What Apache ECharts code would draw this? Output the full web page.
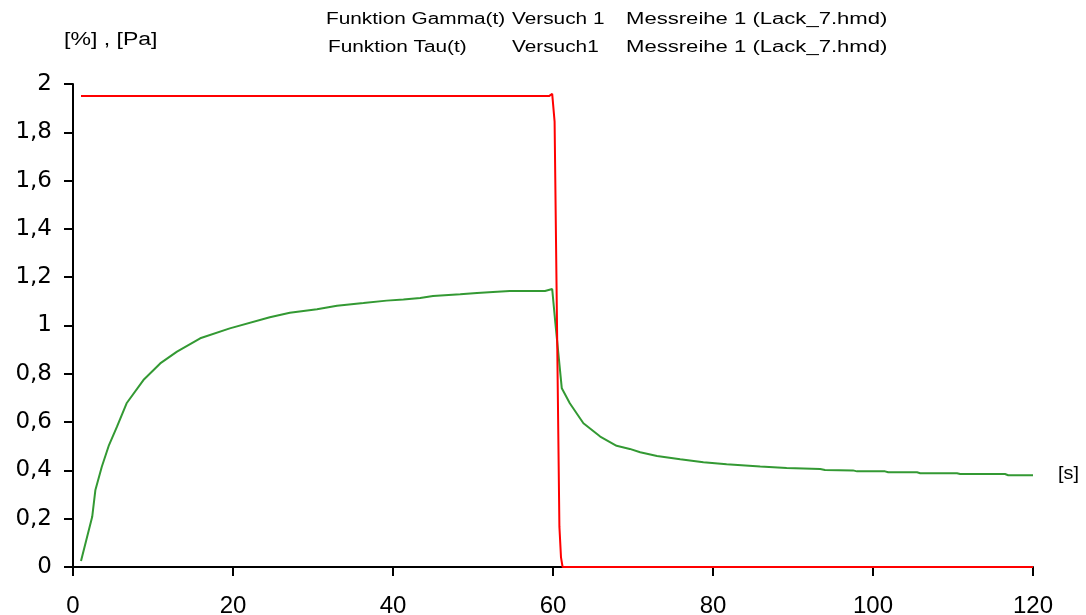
<!DOCTYPE html>
<html>
<head>
<meta charset="utf-8">
<script src="https://cdn.jsdelivr.net/npm/echarts@6/dist/echarts.min.js"></script>
<style>
html,body{margin:0;padding:0;background:#fff;}
#c{width:1086px;height:615px;}
</style>
</head>
<body>
<div id="c"></div>
<script>
// ---- data ----
const titleLine1 = ['Funktion Gamma(t)', 'Versuch 1', 'Messreihe 1 (Lack_7.hmd)'];
const titleLine2 = ['Funktion Tau(t)', 'Versuch1', 'Messreihe 1 (Lack_7.hmd)'];
const yAxisTitle = '[%] , [Pa]';
const xAxisTitle = '[s]';
const xTicks = [0, 20, 40, 60, 80, 100, 120];
const yTicks = [0, 0.2, 0.4, 0.6, 0.8, 1, 1.2, 1.4, 1.6, 1.8, 2];

// Red series (Gamma)
const redT = [1, 59.5, 59.9, 60.2, 60.8, 61.0, 61.2, 120];
const redY = [1.95, 1.95, 1.959, 1.844, 0.167, 0.04, 0, 0];

// Green series (Tau)
const greenT = [1, 2.4, 2.8, 3.6, 4.5, 5.5, 6.7, 8.8, 10.9, 13, 15.9, 19.6, 24.6, 27.1, 30.5, 33, 36.3, 39.2, 41.3, 43.4, 45, 48.4, 50.5, 52.5, 54.6, 59, 59.9, 60.3, 61.1, 62.1, 63.8, 65.9, 67.95, 69.6, 70.9, 73, 75.9, 78.8, 81.7, 85.9, 89.2, 93.4, 94, 97.5, 98, 101.5, 101.9, 105.5, 105.9, 110.5, 110.9, 116.5, 116.9, 120];
const greenY = [0.025, 0.208, 0.319, 0.415, 0.505, 0.581, 0.678, 0.774, 0.843, 0.892, 0.947, 0.988, 1.034, 1.053, 1.067, 1.082, 1.093, 1.103, 1.108, 1.114, 1.122, 1.129, 1.135, 1.139, 1.143, 1.143, 1.151, 1.009, 0.74, 0.678, 0.595, 0.54, 0.502, 0.489, 0.475, 0.46, 0.446, 0.434, 0.425, 0.416, 0.41, 0.406, 0.402, 0.4, 0.396, 0.396, 0.392, 0.392, 0.388, 0.388, 0.385, 0.385, 0.38, 0.38];

const pair = (a, b) => a.map((v, i) => [v, b[i]]);

const FONT = '"Liberation Sans", Arial, sans-serif';
const chart = echarts.init(document.getElementById('c'), null, {renderer: 'canvas'});
const txt = (x, y, s, size, sx) => ({
  type: 'text', x: x, y: y, scaleX: sx, z: 10,
  style: {text: s, font: size + 'px ' + FONT, fill: '#000', align: 'left', verticalAlign: 'middle'}
});

chart.setOption({
  animation: false,
  backgroundColor: '#fff',
  grid: {left: 73, right: 53, top: 84, bottom: 48, containLabel: false, outerBoundsMode: 'none'},
  xAxis: {
    type: 'value', min: xTicks[0], max: xTicks[xTicks.length - 1], interval: 20,
    axisLine: {onZero: false, lineStyle: {color: '#000', width: 2}},
    axisTick: {show: true, length: 9, lineStyle: {color: '#000', width: 2}},
    axisLabel: {color: '#000', fontSize: 24, fontFamily: FONT, margin: 27},
    splitLine: {show: false}
  },
  yAxis: {
    type: 'value', min: yTicks[0], max: yTicks[yTicks.length - 1], interval: 0.2,
    axisLine: {show: true, lineStyle: {color: '#000', width: 2}},
    axisTick: {show: true, length: 9, lineStyle: {color: '#000', width: 2}},
    axisLabel: {color: '#000', fontSize: 23, fontFamily: '"DejaVu Sans", sans-serif', margin: 21,
      formatter: v => String(Math.round(v * 10) / 10).replace('.', ',')},
    splitLine: {show: false}
  },
  graphic: [
    txt(326, 20, titleLine1[0], 16, 1.3), txt(512, 20, titleLine1[1], 16, 1.3), txt(626, 20, titleLine1[2], 16, 1.38),
    txt(328, 48, titleLine2[0], 16, 1.3), txt(512, 48, titleLine2[1], 16, 1.3), txt(626, 48, titleLine2[2], 16, 1.38),
    txt(64, 40, yAxisTitle, 18, 1.28),
    txt(1058, 474, xAxisTitle, 18, 1.1)
  ],
  series: [
    {type: 'line', data: pair(greenT, greenY), showSymbol: false, symbol: 'none',
      lineStyle: {color: '#339933', width: 2}, z: 2},
    {type: 'line', data: pair(redT, redY), showSymbol: false, symbol: 'none',
      lineStyle: {color: '#ff0000', width: 2}, z: 3}
  ]
});
</script>
</body>
</html>
